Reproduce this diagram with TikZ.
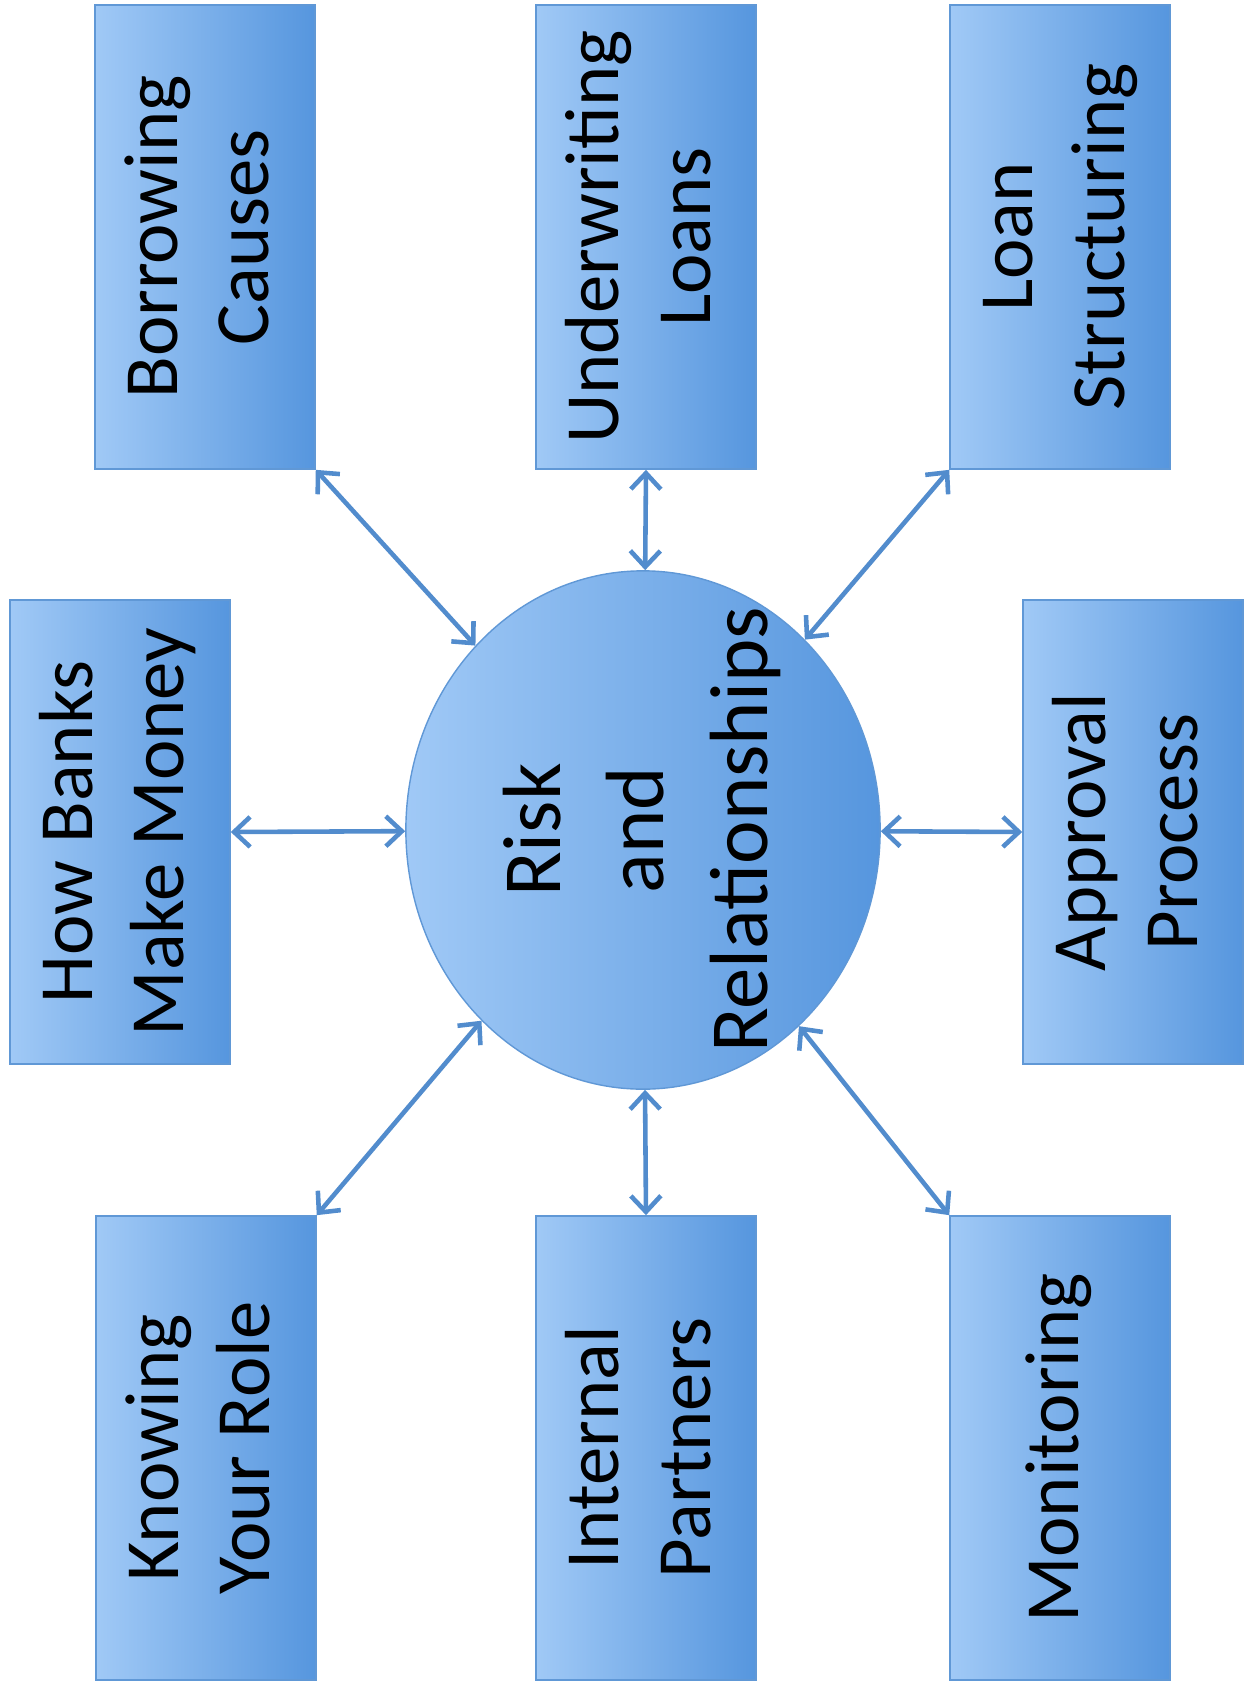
\documentclass[tikz,border=0pt]{standalone}
\usepackage{fontspec}
\setmainfont{Carlito}
\usepackage{tikz}
\usetikzlibrary{shapes,arrows.meta,positioning}

\definecolor{boxlight}{RGB}{160,201,246}
\definecolor{boxdark}{RGB}{86,150,222}
\definecolor{boxedge}{RGB}{96,152,214}
\definecolor{linkblue}{RGB}{82,140,205}

% text turned to read upwards, lines stacked left to right
\newcommand{\sidetext}[1]{\rotatebox{90}{\begin{tabular}{@{}c@{}}#1\end{tabular}}}
\newcommand{\hubtext}[1]{\smash{\raisebox{-.5\height}{\sidetext{#1}}}}

\begin{document}
\begin{tikzpicture}[
    x=0.01cm, y=-0.01cm,
    topic/.style={rectangle, draw=boxedge, left color=boxlight, right color=boxdark, minimum width=2.2cm, minimum height=4.64cm, inner sep=0pt, font=\fontsize{21.8}{26}\selectfont},
    hub/.style={ellipse, draw=boxedge, left color=boxlight, right color=boxdark, minimum width=4.74cm, minimum height=5.18cm, inner sep=0pt, font=\fontsize{23.5}{29.5}\selectfont},
    link/.style={{Straight Barb[length=1.6mm,width=3mm]}-{Straight Barb[length=1.6mm,width=3mm]}, line width=1.3pt, draw=linkblue}
]
    \useasboundingbox (0,0) rectangle (1251,1690);

    \node[hub] (risk) at (643,830) {\hubtext{Risk\\and\\Relationships}};

    \node[topic] (borrow) at (205,237) {\sidetext{Borrowing\\Causes}};
    \node[topic] (under) at (646,237) {\sidetext{Underwriting\\Loans}};
    \node[topic] (struct) at (1060,237) {\sidetext{Loan\\Structuring}};
    \node[topic] (banks) at (120,832) {\sidetext{How Banks\\Make Money}};
    \node[topic] (approve) at (1133,832) {\sidetext{Approval\\Process}};
    \node[topic] (role) at (206,1448) {\sidetext{Knowing\\Your Role}};
    \node[topic] (partners) at (646,1448) {\sidetext{Internal\\Partners}};
    \node[topic] (monitor) at (1060,1448) {\sidetext{Monitoring}};

    \draw[link] (borrow.south east) -- (risk);
    \draw[link] (under.south) -- (risk);
    \draw[link] (struct.south west) -- (risk);
    \draw[link] (banks.east) -- (risk);
    \draw[link] (approve.west) -- (risk);
    \draw[link] (role.north east) -- (risk);
    \draw[link] (partners.north) -- (risk);
    \draw[link] (monitor.north west) -- (risk);
\end{tikzpicture}
\end{document}
